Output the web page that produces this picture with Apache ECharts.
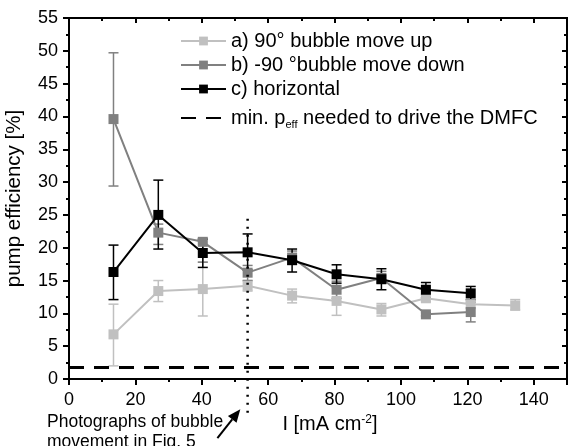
<!DOCTYPE html>
<html>
<head>
<meta charset="utf-8">
<script src="https://cdn.jsdelivr.net/npm/echarts@6/dist/echarts.min.js"></script>
<style>
html, body { margin: 0; padding: 0; background: #fff; }
#chart { width: 569px; height: 446px; }
</style>
</head>
<body>
<div id="chart"></div>
<script>
// current density [mA cm-2]
const xVals = [13.4, 26.9, 40.3, 53.8, 67.2, 80.6, 94.1, 107.5, 121.0, 134.4];

// a) 90° bubble move up
const upVals = [6.8, 13.4, 13.7, 14.2, 12.7, 11.9, 10.6, 12.3, 11.4, 11.2];
const upLow  = [2.0, 11.8, 9.6, 13.4, 11.6, 9.7, 9.6, 11.8, 10.8, 10.5];
const upHigh = [11.4, 15.0, 17.8, 15.0, 13.7, 13.9, 11.5, 12.8, 12.0, 12.1];

// b) -90 °bubble move down
const downVals = [39.6, 22.3, 20.9, 16.2, 18.5, 13.6, 15.4, 9.85, 10.2];
const downLow  = [29.4, 20.5, 17.8, 15.0, 17.5, 12.3, 14.6, 9.6, 8.7];
const downHigh = [49.7, 23.6, 21.3, 17.3, 19.5, 14.9, 16.4, 10.1, 11.7];

// c) horizontal
const horVals = [16.3, 25.0, 19.2, 19.3, 18.1, 15.95, 15.2, 13.6, 13.05];
const horLow  = [12.1, 19.8, 17.0, 16.6, 16.3, 14.6, 13.6, 12.4, 12.1];
const horHigh = [20.4, 30.3, 21.3, 22.1, 19.8, 17.4, 16.8, 14.7, 14.1];

// min. p_eff line, dotted marker line, annotation arrow (data coords)
const minPeff = 1.8;
const markX = 53.8;
const markY = [24.4, -5.2];
const arrowPts = [[44.7, -9.0], [51.6, -4.6]];

const FONT = 'Liberation Sans, Arial, sans-serif';
const nameUp = 'a) 90° bubble move up';
const nameDown = 'b) -90 °bubble move down';
const nameHor = 'c) horizontal';
const nameMin = 'min. peff needed to drive the DMFC';

const pairs = (vals) => vals.map((v, i) => [xVals[i], v]);
const errData = (low, high) => low.map((l, i) => [xVals[i], l, high[i]]);

// vertical error bars with caps
const errSeries = (name, low, high, color, w) => ({
    name: name + ' err',
    type: 'custom',
    data: errData(low, high),
    encode: { x: 0, y: [1, 2] },
    z: 2,
    silent: true,
    renderItem: function (params, api) {
        const lo = api.coord([api.value(0), api.value(1)]);
        const hi = api.coord([api.value(0), api.value(2)]);
        const hw = 5;
        const st = { stroke: color, lineWidth: w };
        return {
            type: 'group',
            children: [
                { type: 'line', shape: { x1: lo[0], y1: lo[1], x2: hi[0], y2: hi[1] }, style: st },
                { type: 'line', shape: { x1: lo[0] - hw, y1: lo[1], x2: lo[0] + hw, y2: lo[1] }, style: st },
                { type: 'line', shape: { x1: hi[0] - hw, y1: hi[1], x2: hi[0] + hw, y2: hi[1] }, style: st }
            ]
        };
    }
});

const lineSeries = (name, vals, color, w, z) => ({
    name: name,
    type: 'line',
    data: pairs(vals),
    symbol: 'rect',
    symbolSize: 10,
    z: z,
    lineStyle: { color: color, width: w },
    itemStyle: { color: color }
});

const chart = echarts.init(document.getElementById('chart'));

const tickStyle = { color: '#000', width: 2 };
const dashStyle = { color: '#000', width: 3, type: [15, 10] };

const legendText = {
    fontFamily: FONT,
    fontSize: 20,
    color: '#000',
    lineHeight: 24,
    rich: {
        sub: { fontFamily: FONT, fontSize: 11, color: '#000', verticalAlign: 'bottom', padding: [14, 0, 0, 0] }
    }
};

const option = {
    animation: false,
    backgroundColor: '#fff',
    grid: {
        left: 69, right: 2, top: 18, bottom: 67,
        outerBoundsMode: 'none',
        show: true, borderColor: '#000', borderWidth: 2
    },
    legend: [
        {
            orient: 'vertical',
            left: 180,
            top: 29,
            padding: 0,
            itemWidth: 45,
            itemHeight: 11,
            itemGap: 0,
            data: [nameUp, nameDown, nameHor],
            textStyle: legendText
        },
        {
            orient: 'vertical',
            left: 180,
            top: 106,
            padding: 0,
            itemWidth: 45,
            itemHeight: 11,
            data: [{ name: nameMin, itemStyle: { color: 'rgba(0,0,0,0)', borderWidth: 0 } }],
            formatter: () => 'min. p{sub|eff} needed to drive the DMFC',
            textStyle: legendText
        }
    ],
    xAxis: [
        {
            type: 'value',
            min: 0,
            max: 150,
            interval: 20,
            position: 'bottom',
            name: 'I [mA cm{sup|-2}]',
            nameLocation: 'middle',
            nameGap: 31,
            nameTextStyle: {
                fontFamily: FONT, fontSize: 20, color: '#000', padding: [0, 0, 0, 24],
                rich: { sup: { fontFamily: FONT, fontSize: 12, color: '#000', verticalAlign: 'top', padding: [0, 0, 10, 0] } }
            },
            axisLine: { show: true, onZero: false, lineStyle: tickStyle },
            splitLine: { show: false },
            axisTick: { show: true, inside: false, length: 6, lineStyle: tickStyle },
            minorTick: { show: true, splitNumber: 2, length: 3, lineStyle: tickStyle },
            axisLabel: {
                fontFamily: FONT, fontSize: 18, color: '#000', margin: 12,
                showMaxLabel: false,
                formatter: (v) => (v > 140 ? '' : String(v))
            }
        },
        {
            type: 'value',
            min: 0,
            max: 150,
            interval: 20,
            position: 'top',
            axisLine: { show: true, onZero: false, lineStyle: tickStyle },
            splitLine: { show: false },
            axisTick: { show: true, inside: true, length: 5, lineStyle: tickStyle },
            minorTick: { show: true, splitNumber: 2, length: 3, lineStyle: tickStyle },
            axisLabel: { show: false, formatter: () => '' }
        }
    ],
    yAxis: [
        {
            type: 'value',
            min: 0,
            max: 55,
            interval: 5,
            position: 'left',
            name: 'pump efficiency [%]',
            nameLocation: 'middle',
            nameGap: 44,
            nameTextStyle: { fontFamily: FONT, fontSize: 20.5, color: '#000' },
            axisLine: { show: true, onZero: false, lineStyle: tickStyle },
            splitLine: { show: false },
            axisTick: { show: true, inside: false, length: 6, lineStyle: tickStyle },
            minorTick: { show: true, splitNumber: 2, length: 3, lineStyle: tickStyle },
            axisLabel: { fontFamily: FONT, fontSize: 18, color: '#000', margin: 11 }
        },
        {
            type: 'value',
            min: 0,
            max: 55,
            interval: 5,
            position: 'right',
            axisLine: { show: true, onZero: false, lineStyle: tickStyle },
            splitLine: { show: false },
            axisTick: { show: true, inside: true, length: 5, lineStyle: tickStyle },
            minorTick: { show: true, splitNumber: 2, length: 3, lineStyle: tickStyle },
            axisLabel: { show: false, formatter: () => '' }
        }
    ],
    series: [
        errSeries(nameUp, upLow, upHigh, '#c0c0c0', 1.5),
        lineSeries(nameUp, upVals, '#c0c0c0', 2, 3),
        errSeries(nameDown, downLow, downHigh, '#808080', 1.5),
        lineSeries(nameDown, downVals, '#808080', 2, 4),
        errSeries(nameHor, horLow, horHigh, '#000', 1.5),
        lineSeries(nameHor, horVals, '#000', 2, 5),
        {
            // threshold drawn as a markLine across the whole plot width
            name: nameMin,
            type: 'line',
            data: [[0, minPeff]],
            symbol: 'none',
            z: 6,
            lineStyle: dashStyle,
            itemStyle: { color: '#000' },
            markLine: {
                silent: true,
                symbol: ['none', 'none'],
                label: { show: false },
                lineStyle: dashStyle,
                data: [{ yAxis: minPeff }]
            }
        },
        {
            name: 'marker',
            type: 'line',
            data: [[markX, markY[0]], [markX, markY[1]]],
            symbol: 'none',
            clip: false,
            z: 6,
            lineStyle: { color: '#000', width: 2.5, type: [2, 6] }
        }
    ]
};

chart.setOption(option, true);

// annotation: text + arrow pointing at the dotted marker
const p0 = chart.convertToPixel({ gridIndex: 0 }, arrowPts[0]);
const p1 = chart.convertToPixel({ gridIndex: 0 }, arrowPts[1]);
const ang = Math.atan2(p1[1] - p0[1], p1[0] - p0[0]);
const hl = 13, hw = 5.5;
const bx = p1[0] - hl * Math.cos(ang), by = p1[1] - hl * Math.sin(ang);
const head = [
    p1,
    [bx + hw * Math.sin(ang), by - hw * Math.cos(ang)],
    [bx - hw * Math.sin(ang), by + hw * Math.cos(ang)]
];

chart.setOption({
    graphic: [
        {
            type: 'text',
            left: 47,
            top: 412,
            style: { text: 'Photographs of bubble\nmovement in Fig. 5', fontFamily: FONT, fontSize: 17.5, lineHeight: 20, fill: '#000' }
        },
        { type: 'line', shape: { x1: p0[0], y1: p0[1], x2: bx, y2: by }, style: { stroke: '#000', lineWidth: 2 } },
        { type: 'polygon', shape: { points: head }, style: { fill: '#000' } }
    ]
});

window.onresize = chart.resize;
</script>
</body>
</html>
